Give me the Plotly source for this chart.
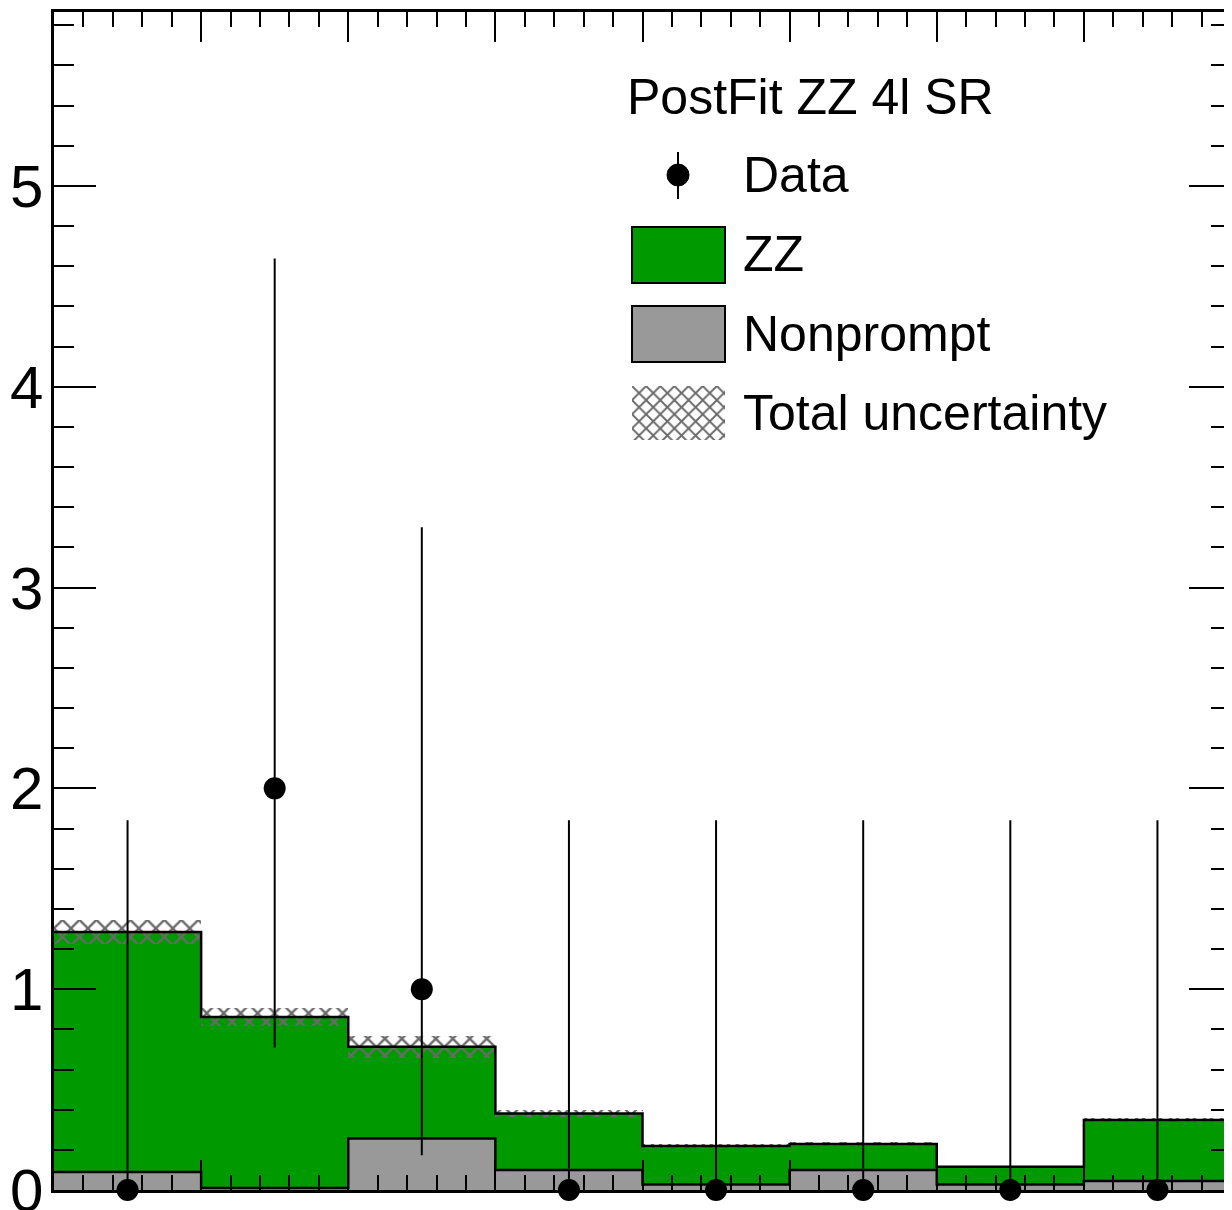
import plotly.graph_objects as go

# ---------------- data ----------------
bin_edges = [0, 1, 2, 3, 4, 5, 6, 7, 8]
nonprompt = [0.090, 0.010, 0.257, 0.100, 0.028, 0.100, 0.028, 0.045]
zz = [1.195, 0.852, 0.456, 0.281, 0.191, 0.129, 0.088, 0.303]
total_unc = [0.062, 0.046, 0.054, 0.015, 0.010, 0.012, 0.006, 0.010]
data = [0, 2, 1, 0, 0, 0, 0, 0]
data_err_up = [1.841, 2.638, 2.300, 1.841, 1.841, 1.841, 1.841, 1.841]
data_err_dn = [0.0, 1.291, 0.827, 0.0, 0.0, 0.0, 0.0, 0.0]

legend_title = "PostFit ZZ 4l SR"
legend_labels = ["Data", "ZZ", "Nonprompt", "Total uncertainty"]

# ---------------- derived ----------------
centers = [(a + b) / 2 for a, b in zip(bin_edges[:-1], bin_edges[1:])]
widths = [b - a for a, b in zip(bin_edges[:-1], bin_edges[1:])]
total = [n + z for n, z in zip(nonprompt, zz)]
band_base = [t - u for t, u in zip(total, total_unc)]
band_h = [2 * u for u in total_unc]

GREEN = "#009900"
GRAY = "#999999"
HATCH = "#6a6a6a"
FONT = "Liberation Sans, Arial, sans-serif"

# page body has an 8px margin; work in screen pixels and convert
OFF = 8
W, H = 1224, 1202
# screen-pixel plot frame
SX0, SX1, SY0, SY1 = 54, 1231, 12, 1190
ML, MR, MT, MB = SX0 - OFF, W - (SX1 - OFF), SY0 - OFF, H - (SY1 - OFF)
PW, PH = W - ML - MR, H - MT - MB


def px(x):
    return (x - SX0) / PW


def py(y):
    return (SY1 - y) / PH


fig = go.Figure()

fig.add_trace(go.Bar(x=centers, y=nonprompt, base=[0] * len(nonprompt), width=widths,
                     marker=dict(color=GRAY, line=dict(width=0)), showlegend=False))
fig.add_trace(go.Bar(x=centers, y=zz, base=nonprompt, width=widths,
                     marker=dict(color=GREEN, line=dict(width=0)), showlegend=False))

# step outlines
fig.add_trace(go.Scatter(x=bin_edges, y=nonprompt + [nonprompt[-1]], mode="lines",
                         line=dict(color="black", width=2.5, shape="hv"), showlegend=False))
fig.add_trace(go.Scatter(x=bin_edges, y=total + [total[-1]], mode="lines",
                         line=dict(color="black", width=2.5, shape="hv"), showlegend=False))

# uncertainty band
fig.add_trace(go.Bar(x=centers, y=band_h, base=band_base, width=widths,
                     marker=dict(color=HATCH, line=dict(width=0),
                                 pattern=dict(shape="x", size=12, solidity=0.35,
                                              fillmode="replace")),
                     showlegend=False))

# data
fig.add_trace(go.Scatter(x=centers, y=data, mode="markers",
                         marker=dict(color="black", size=22),
                         error_y=dict(type="data", array=data_err_up, arrayminus=data_err_dn,
                                      symmetric=False, thickness=2, width=0, color="black"),
                         cliponaxis=False, showlegend=False))

# legend hatch swatch on helper axes
fig.add_trace(go.Bar(x=[0.5], y=[1], width=[1], xaxis="x2", yaxis="y2",
                     marker=dict(color=HATCH, line=dict(width=0),
                                 pattern=dict(shape="x", size=10, solidity=0.35,
                                              fillmode="replace")),
                     showlegend=False))

axis_common = dict(showline=True, linecolor="black", linewidth=2.5, mirror="allticks",
                   ticks="inside", tickcolor="black", tickwidth=2, showgrid=False,
                   zeroline=False, automargin=False)

fig.update_layout(
    width=W, height=H,
    margin=dict(l=ML, r=MR, t=MT, b=MB, pad=0, autoexpand=False),
    paper_bgcolor="white", plot_bgcolor="white",
    barmode="overlay", bargap=0,
    font=dict(family=FONT, color="black"),
    xaxis=dict(range=[bin_edges[0], bin_edges[-1]], dtick=1, ticklen=30,
               showticklabels=False,
               minor=dict(ticks="inside", ticklen=15, dtick=0.2, tickcolor="black",
                          tickwidth=2, showgrid=False),
               **axis_common),
    yaxis=dict(range=[0, 5.866], dtick=1, ticklen=42, tickfont=dict(size=60, family=FONT),
               ticklabelstandoff=-4, ticklabeloverflow="allow",
               minor=dict(ticks="inside", ticklen=20, dtick=0.2, tickcolor="black",
                          tickwidth=2, showgrid=False),
               **axis_common),
    xaxis2=dict(domain=[px(632), px(725)], range=[0, 1], visible=False, anchor="y2",
                automargin=False),
    yaxis2=dict(domain=[py(440), py(386)], range=[0, 1], visible=False, anchor="x2",
                automargin=False),
)

shapes = []
# ZZ box
shapes.append(dict(type="rect", xref="paper", yref="paper",
                   x0=px(632), x1=px(725), y0=py(283), y1=py(227),
                   fillcolor=GREEN, line=dict(color="black", width=2)))
# Nonprompt box
shapes.append(dict(type="rect", xref="paper", yref="paper",
                   x0=px(632), x1=px(725), y0=py(362), y1=py(306),
                   fillcolor=GRAY, line=dict(color="black", width=2)))
# Data symbol
shapes.append(dict(type="line", xref="paper", yref="paper",
                   x0=px(678), x1=px(678), y0=py(199), y1=py(152),
                   line=dict(color="black", width=2)))
shapes.append(dict(type="circle", xref="paper", yref="paper",
                   x0=px(667), x1=px(689), y0=py(186), y1=py(164),
                   fillcolor="black", line=dict(color="black", width=1)))
fig.update_layout(shapes=shapes)

annots = [dict(text=legend_title, x=px(625), y=py(97), xref="paper", yref="paper",
               xanchor="left", yanchor="middle", showarrow=False,
               font=dict(size=50, family=FONT, color="black"))]
for lab, yy in zip(legend_labels, [175, 254, 334, 413]):
    annots.append(dict(text=lab, x=px(741), y=py(yy), xref="paper", yref="paper",
                       xanchor="left", yanchor="middle", showarrow=False,
                       font=dict(size=50, family=FONT, color="black")))
fig.update_layout(annotations=annots)

fig.write_html("out.html")
